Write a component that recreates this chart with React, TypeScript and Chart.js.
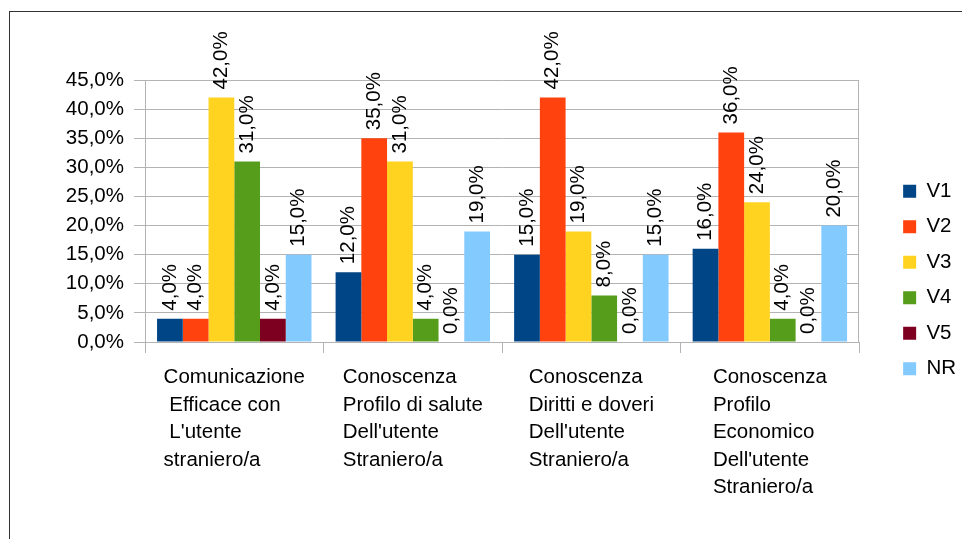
import React, { useEffect, useRef } from "react";
import { Chart, registerables } from "chart.js";

Chart.register(...registerables);

const categories: string[][] = [
  ["Comunicazione", " Efficace con", " L'utente", "straniero/a"],
  ["Conoscenza", "Profilo di salute", "Dell'utente", "Straniero/a"],
  ["Conoscenza", "Diritti e doveri", "Dell'utente", "Straniero/a"],
  ["Conoscenza", "Profilo", "Economico", "Dell'utente", "Straniero/a"],
];

const seriesNames = ["V1", "V2", "V3", "V4", "V5", "NR"];
const v1 = [4, 12, 15, 16];
const v2 = [4, 35, 42, 36];
const v3 = [42, 31, 19, 24];
const v4 = [31, 4, 8, 4];
const v5 = [4, 0, 0, 0];
const nr = [15, 19, 15, 20];
const seriesValues = [v1, v2, v3, v4, v5, nr];
const seriesColors = ["#004586", "#ff420e", "#ffd320", "#579d1c", "#7e0021", "#83caff"];

const yMin = 0;
const yMax = 45;
const yStep = 5;

const FONT_FAMILY = "'Liberation Sans', Arial, sans-serif";
const FONT_SIZE = 20.5;
const GRID = "#b3b3b3";

const fmt = (v: number) => v.toFixed(1).replace(".", ",") + "%";

const CANVAS_TOP = 21;
const CANVAS_W = 966;
const CANVAS_H = 518;

const valueLabels = {
  id: "valueLabels",
  afterDatasetsDraw(chart: any) {
    const ctx = chart.ctx;
    ctx.save();
    ctx.font = `${FONT_SIZE}px ${FONT_FAMILY}`;
    ctx.fillStyle = "#000";
    ctx.textAlign = "left";
    ctx.textBaseline = "middle";
    chart.data.datasets.forEach((ds: any, di: number) => {
      const meta = chart.getDatasetMeta(di);
      meta.data.forEach((bar: any, i: number) => {
        const v = ds.data[i];
        ctx.save();
        ctx.translate(bar.x, bar.y - 8);
        ctx.rotate(-Math.PI / 2);
        ctx.fillText(fmt(v), 0, 0);
        ctx.restore();
      });
    });
    ctx.restore();
  },
};

const categoryLabels = {
  id: "categoryLabels",
  afterDraw(chart: any) {
    const ctx = chart.ctx;
    const xs = chart.scales.x;
    const area = chart.chartArea;
    ctx.save();
    ctx.font = `${FONT_SIZE}px ${FONT_FAMILY}`;
    ctx.fillStyle = "#000";
    ctx.textAlign = "left";
    ctx.textBaseline = "alphabetic";
    (chart.data.labels as string[][]).forEach((lines, i) => {
      const cx = xs.getPixelForTick(i);
      const w = Math.max(...lines.map((l) => ctx.measureText(l).width));
      const left = cx - w / 2;
      lines.forEach((l, j) => {
        ctx.fillText(l, left, area.bottom + 41 + j * 27.6);
      });
    });
    ctx.restore();
  },
};

const rightBorder = {
  id: "rightBorder",
  beforeDatasetsDraw(chart: any) {
    const ctx = chart.ctx;
    const a = chart.chartArea;
    const x = Math.round(a.right) - 0.5;
    ctx.save();
    ctx.strokeStyle = GRID;
    ctx.lineWidth = 1;
    ctx.beginPath();
    ctx.moveTo(x, a.top);
    ctx.lineTo(x, a.bottom);
    ctx.stroke();
    ctx.restore();
  },
};

export default function App() {
  const ref = useRef<HTMLCanvasElement | null>(null);

  useEffect(() => {
    if (!ref.current) return;
    Chart.defaults.font.family = FONT_FAMILY;
    Chart.defaults.font.size = FONT_SIZE;
    Chart.defaults.color = "#000";
    const chart = new Chart(ref.current, {
      type: "bar",
      data: {
        labels: categories,
        datasets: seriesNames.map((name, i) => ({
          label: name,
          data: seriesValues[i],
          backgroundColor: seriesColors[i],
          borderWidth: 0,
          categoryPercentage: 0.865,
          barPercentage: 1,
        })),
      },
      options: {
        animation: false,
        responsive: false,
        devicePixelRatio: 1,
        layout: { padding: 0 },
        plugins: {
          legend: {
            position: "right",
            align: "center",
            labels: {
              boxWidth: 13,
              boxHeight: 13,
              padding: 15,
              color: "#000",
              font: { size: FONT_SIZE, family: FONT_FAMILY },
            },
          },
          tooltip: { enabled: false },
        },
        scales: {
          x: {
            position: "bottom",
            grid: {
              display: true,
              drawOnChartArea: false,
              drawTicks: true,
              tickLength: 11,
              color: GRID,
              tickColor: GRID,
            },
            border: { display: true, color: GRID },
            ticks: { display: false },
            afterFit: (s: any) => {
              s.height = 197;
            },
          },
          topSpacer: {
            type: "linear",
            axis: "x",
            position: "top",
            min: 0,
            max: 1,
            grid: { display: false },
            border: { display: false },
            ticks: { display: false },
            afterFit: (s: any) => {
              s.height = 59;
            },
          },
          y: {
            position: "left",
            min: yMin,
            max: yMax,
            grid: {
              color: GRID,
              tickColor: GRID,
              tickLength: 11,
            },
            border: { display: true, color: GRID },
            ticks: {
              stepSize: yStep,
              padding: 10,
              color: "#000",
              font: { size: FONT_SIZE, family: FONT_FAMILY },
              callback: (v: any) => fmt(Number(v)),
            },
            afterFit: (s: any) => {
              s.width = 145;
            },
          },
          rightSpacer: {
            type: "linear",
            axis: "y",
            position: "right",
            min: 0,
            max: 1,
            grid: { display: false },
            border: { display: false },
            ticks: { display: false },
            afterFit: (s: any) => {
              s.width = 29;
            },
          },
        },
      } as any,
      plugins: [rightBorder, valueLabels, categoryLabels],
    });
    return () => chart.destroy();
  }, []);

  return (
    <div>
      <div
        style={{
          position: "fixed",
          left: 9,
          top: 11,
          width: 1000,
          height: 600,
          borderLeft: "1px solid #333",
          borderTop: "1px solid #333",
          boxSizing: "border-box",
        }}
      />
      <canvas
        ref={ref}
        width={CANVAS_W}
        height={CANVAS_H}
        style={{
          position: "fixed",
          left: 0,
          top: CANVAS_TOP,
          width: CANVAS_W,
          height: CANVAS_H,
        }}
      />
    </div>
  );
}
